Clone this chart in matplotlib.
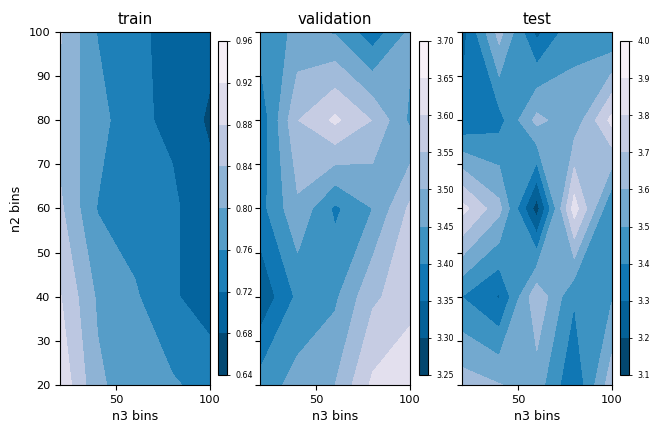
import numpy as np
import matplotlib
matplotlib.use("Agg")
import matplotlib.pyplot as plt

# ============================================
# DATA: score grids over (n2 bins, n3 bins)
# ============================================

n3_bins = [20, 40, 60, 80, 100]
n2_bins = [20, 40, 60, 80, 100]

# rows follow n2_bins (bottom to top), columns follow n3_bins
train_scores = [
    [0.912, 0.808, 0.775, 0.765, 0.745],
    [0.883, 0.794, 0.765, 0.725, 0.700],
    [0.848, 0.758, 0.740, 0.725, 0.700],
    [0.825, 0.778, 0.725, 0.715, 0.672],
    [0.845, 0.758, 0.730, 0.705, 0.695],
]
validation_scores = [
    [3.42, 3.47, 3.50, 3.61, 3.64],
    [3.31, 3.41, 3.44, 3.54, 3.58],
    [3.38, 3.49, 3.39, 3.45, 3.56],
    [3.36, 3.548, 3.61, 3.548, 3.44],
    [3.42, 3.46, 3.445, 3.37, 3.46],
]
test_scores = [
    [3.65, 3.605, 3.55, 3.31, 3.66],
    [3.40, 3.29, 3.68, 3.41, 3.49],
    [3.84, 3.63, 3.15, 3.85, 3.40],
    [3.31, 3.36, 3.63, 3.53, 3.83],
    [3.25, 3.64, 3.27, 3.48, 3.40],
]

train_levels = np.linspace(0.64, 0.96, 9)
validation_levels = np.linspace(3.25, 3.70, 10)
test_levels = np.linspace(3.1, 4.0, 10)

titles = ["train", "validation", "test"]
cbar_formats = ["%.2f", "%.2f", "%.1f"]

# ============================================
# PLOT
# ============================================

fig = plt.figure(figsize=(6.56, 4.25), dpi=100)

ax_lefts = [60 / 656, 260 / 656, 461.7 / 656]
cb_lefts = [218 / 656, 419 / 656, 620 / 656]
panels = [(train_scores, train_levels),
          (validation_scores, validation_levels),
          (test_scores, test_levels)]

X, Y = np.meshgrid(n3_bins, n2_bins)

for i, (scores, levels) in enumerate(panels):
    ax = fig.add_axes([ax_lefts[i], 40 / 425, 150 / 656, 353 / 425])
    cs = ax.contourf(X, Y, np.array(scores), levels=levels, cmap="PuBu_r")
    ax.set_xlim(20, 100)
    ax.set_ylim(20, 100)
    ax.set_xticks([50, 100])
    ax.set_yticks(np.arange(20, 101, 10))
    ax.tick_params(labelsize=8.2)
    if i > 0:
        ax.set_yticklabels([])
    else:
        ax.set_ylabel("n2 bins", fontsize=9.1)
    ax.set_xlabel("n3 bins", fontsize=9.1)
    ax.set_title(titles[i], fontsize=10.8)

    cax = fig.add_axes([cb_lefts[i], 50 / 425, 9 / 656, 334 / 425])
    cb = fig.colorbar(cs, cax=cax, format=cbar_formats[i])
    cb.set_ticks(levels)
    cb.ax.tick_params(labelsize=5.7, length=2.5, width=0.6)

plt.savefig("out.png", dpi=100)
plt.close()
